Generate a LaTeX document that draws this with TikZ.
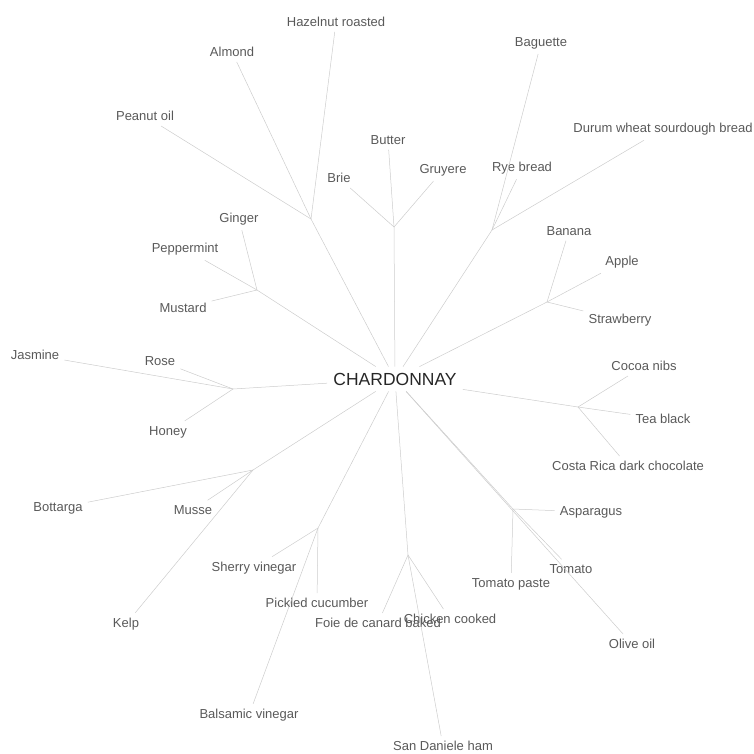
\documentclass[tikz,border=0pt]{standalone}
\usepackage{fontspec}
\setmainfont{Liberation Sans}

\begin{document}
\begin{tikzpicture}[x=1pt, y=-1pt]
        \tikzstyle{wine} = [text=black!85, font=\fontsize{17.5}{20}\selectfont, inner sep=6pt]
        \tikzstyle{food} = [text=black!65, font=\fontsize{13}{15}\selectfont, inner sep=5pt]
        \tikzstyle{link} = [draw=black!20, line width=0.5pt]
        \useasboundingbox (0,0) rectangle (754,753);
        \node[wine] (0) at (395,379) {CHARDONNAY};
        % branch points
        \coordinate (n1) at (311,219);
        \coordinate (n2) at (394,227);
        \coordinate (n3) at (492,230);
        \coordinate (n4) at (547,302);
        \coordinate (n5) at (578,407);
        \coordinate (n6) at (513,509);
        \coordinate (n7) at (408,555);
        \coordinate (n8) at (318,528);
        \coordinate (n9) at (253,470);
        \coordinate (n10) at (233,389);
        \coordinate (n11) at (257,290);
        % ingredients
        \node[food] (1) at (336,22) {Hazelnut roasted};
        \node[food] (2) at (232,52) {Almond};
        \node[food] (3) at (145,116) {Peanut oil};
        \node[food] (4) at (388,140) {Butter};
        \node[food] (5) at (339,178) {Brie};
        \node[food] (6) at (443,170) {Gruyere};
        \node[food] (7) at (541,43) {Baguette};
        \node[food] (8) at (522,168) {Rye bread};
        \node[food] (9) at (663,129) {Durum wheat sourdough bread};
        \node[food] (10) at (569,231) {Banana};
        \node[food] (11) at (622,262) {Apple};
        \node[food] (12) at (620,320) {Strawberry};
        \node[food] (13) at (644,366) {Cocoa nibs};
        \node[food] (14) at (663,419) {Tea black};
        \node[food] (15) at (628,466) {Costa Rica dark chocolate};
        \node[food] (16) at (591,512) {Asparagus};
        \node[food] (17) at (571,569) {Tomato};
        \node[food] (18) at (511,584) {Tomato paste};
        \node[food] (19) at (632,644) {Olive oil};
        \node[food] (20) at (450,619) {Chicken cooked};
        \node[food] (21) at (378,623) {Foie de canard baked};
        \node[food] (22) at (443,746) {San Daniele ham};
        \node[food] (23) at (317,603) {Pickled cucumber};
        \node[food] (24) at (254,568) {Sherry vinegar};
        \node[food] (25) at (249,715) {Balsamic vinegar};
        \node[food] (26) at (58,508) {Bottarga};
        \node[food] (27) at (193,510) {Musse};
        \node[food] (28) at (126,624) {Kelp};
        \node[food] (29) at (35,355) {Jasmine};
        \node[food] (30) at (160,361) {Rose};
        \node[food] (31) at (168,432) {Honey};
        \node[food] (32) at (239,219) {Ginger};
        \node[food] (33) at (185,249) {Peppermint};
        \node[food] (34) at (183,308) {Mustard};
        \path[link]
                (0) edge (n1) (0) edge (n2) (0) edge (n3) (0) edge (n4)
                (0) edge (n5) (0) edge (n6) (0) edge (n7) (0) edge (n8)
                (0) edge (n9) (0) edge (n10) (0) edge (n11) (0) edge (19)
                (n1) edge (1) (n1) edge (2) (n1) edge (3)
                (n2) edge (4) (n2) edge (5) (n2) edge (6)
                (n3) edge (7) (n3) edge (8) (n3) edge (9)
                (n4) edge (10) (n4) edge (11) (n4) edge (12)
                (n5) edge (13) (n5) edge (14) (n5) edge (15)
                (n6) edge (16) (n6) edge (17) (n6) edge (18)
                (n7) edge (20) (n7) edge (21) (n7) edge (22)
                (n8) edge (23) (n8) edge (24) (n8) edge (25)
                (n9) edge (26) (n9) edge (27) (n9) edge (28)
                (n10) edge (29) (n10) edge (30) (n10) edge (31)
                (n11) edge (32) (n11) edge (33) (n11) edge (34);
\end{tikzpicture}
\end{document}
